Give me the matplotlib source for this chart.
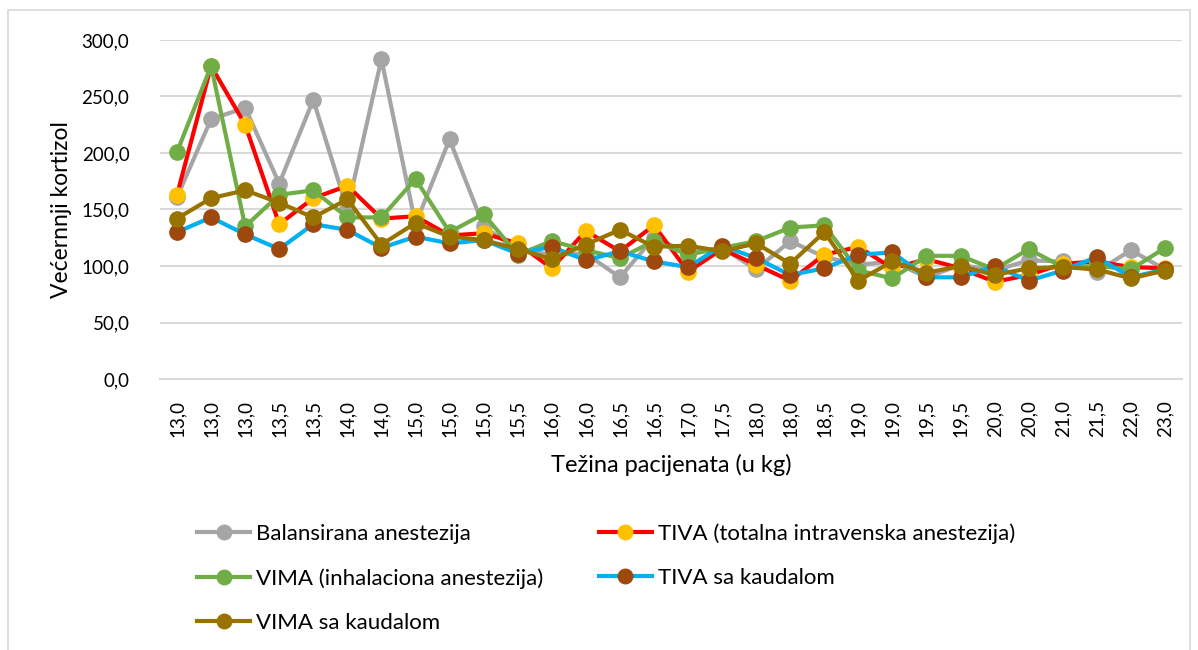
import numpy as np
import matplotlib
matplotlib.use("Agg")
import matplotlib.pyplot as plt
from matplotlib.patches import Rectangle

plt.rcParams["font.family"] = ["Lato", "DejaVu Sans"]

tezina = ["13,0", "13,0", "13,0", "13,5", "13,5", "14,0", "14,0", "15,0", "15,0", "15,0",
          "15,5", "16,0", "16,0", "16,5", "16,5", "17,0", "17,5", "18,0", "18,0", "18,5",
          "19,0", "19,0", "19,5", "19,5", "20,0", "20,0", "21,0", "21,5", "22,0", "23,0"]

balansirana = [161, 230, 240, 173, 247, 150, 283, 137, 212, 135,
               114, 110, 111, 90, 125, 112, 116, 97, 122, 108,
               101, 104, 90, 101, 96, 105, 104, 95, 114, 97]
tiva = [163, 277, 225, 137, 160, 171, 142, 144, 127, 129,
        120, 98, 131, 113, 136, 95, 115, 101, 87, 110,
        117, 98, 106, 98, 86, 92, 102, 104, 99, 98]
vima = [201, 277, 135, 163, 167, 143, 143, 177, 130, 146,
        110, 122, 114, 107, 122, 110, 116, 122, 134, 136,
        96, 89, 109, 109, 97, 115, 99, 100, 97, 116]
tiva_kaudal = [130, 143, 128, 115, 137, 132, 116, 126, 120, 123,
               111, 117, 105, 113, 104, 99, 118, 107, 92, 98,
               110, 112, 90, 90, 100, 87, 96, 108, 90, 97]
vima_kaudal = [142, 160, 167, 156, 143, 159, 119, 138, 126, 123,
               115, 106, 119, 132, 117, 118, 113, 120, 102, 130,
               87, 104, 94, 100, 92, 98, 99, 97, 89, 96]

serije = [
    ("Balansirana anestezija", balansirana, "#A5A5A5", "#A5A5A5"),
    ("TIVA (totalna intravenska anestezija)", tiva, "#FF0000", "#FFC000"),
    ("VIMA (inhalaciona anestezija)", vima, "#70AD47", "#70AD47"),
    ("TIVA sa kaudalom", tiva_kaudal, "#00B0F0", "#9E480E"),
    ("VIMA sa kaudalom", vima_kaudal, "#997300", "#997300"),
]

fig = plt.figure(figsize=(11.98, 6.5), dpi=100)
ax = fig.add_axes([160 / 1198, 1 - 379 / 650, 1022 / 1198, 339 / 650])

x = np.arange(len(tezina))
linije = []
for naziv, vrijednosti, boja_linije, boja_markera in serije:
    l, = ax.plot(x, vrijednosti, color=boja_linije, lw=3, marker="o", ms=11,
                 markerfacecolor=boja_markera, markeredgecolor=boja_markera,
                 label=naziv, solid_joinstyle="round")
    linije.append(l)

ax.set_xlim(-0.5, len(tezina) - 0.5)
ax.set_ylim(0, 300)
ax.set_yticks(np.arange(0, 301, 50))
ax.set_yticklabels([f"{v:.1f}".replace(".", ",") for v in np.arange(0, 301, 50)], fontsize=13.5)
ax.set_xticks(x)
ax.set_xticklabels(tezina, rotation=90, fontsize=13.5)
ax.tick_params(length=0)
ax.tick_params(axis="x", pad=15)
ax.tick_params(axis="y", pad=22)
ax.grid(axis="y", color="#D9D9D9", lw=1.5)
ax.set_axisbelow(True)
for s in ["top", "right", "left"]:
    ax.spines[s].set_visible(False)
ax.spines["bottom"].set_color("#D9D9D9")
ax.spines["bottom"].set_linewidth(1.5)

ax.set_ylabel("Većernnji kortizol", fontsize=16.5)
ax.yaxis.set_label_coords(-88 / 1022, 0.5)
ax.set_xlabel("Težina pacijenata (u kg)", fontsize=17)
ax.xaxis.set_label_coords(0.5, -86 / 339)
ax.xaxis.label.set_verticalalignment("center")

red = [linije[0], linije[2], linije[4], linije[1], linije[3]]
leg = fig.legend(red, [l.get_label() for l in red], ncol=2, frameon=False, fontsize=16,
                 loc="upper left", bbox_to_anchor=(197 / 1198, 1 - 523 / 650),
                 borderpad=0, borderaxespad=0, markerscale=0.95,
                 handlelength=2.4, handletextpad=0.25, columnspacing=2.5, labelspacing=1.1)

fig.patches.append(Rectangle((8 / 1198, -0.01), 1182 / 1198, 1 - 10 / 650 + 0.01,
                             transform=fig.transFigure, fill=False,
                             edgecolor="#D9D9D9", lw=1.2))

fig.savefig("out.png", dpi=100)
